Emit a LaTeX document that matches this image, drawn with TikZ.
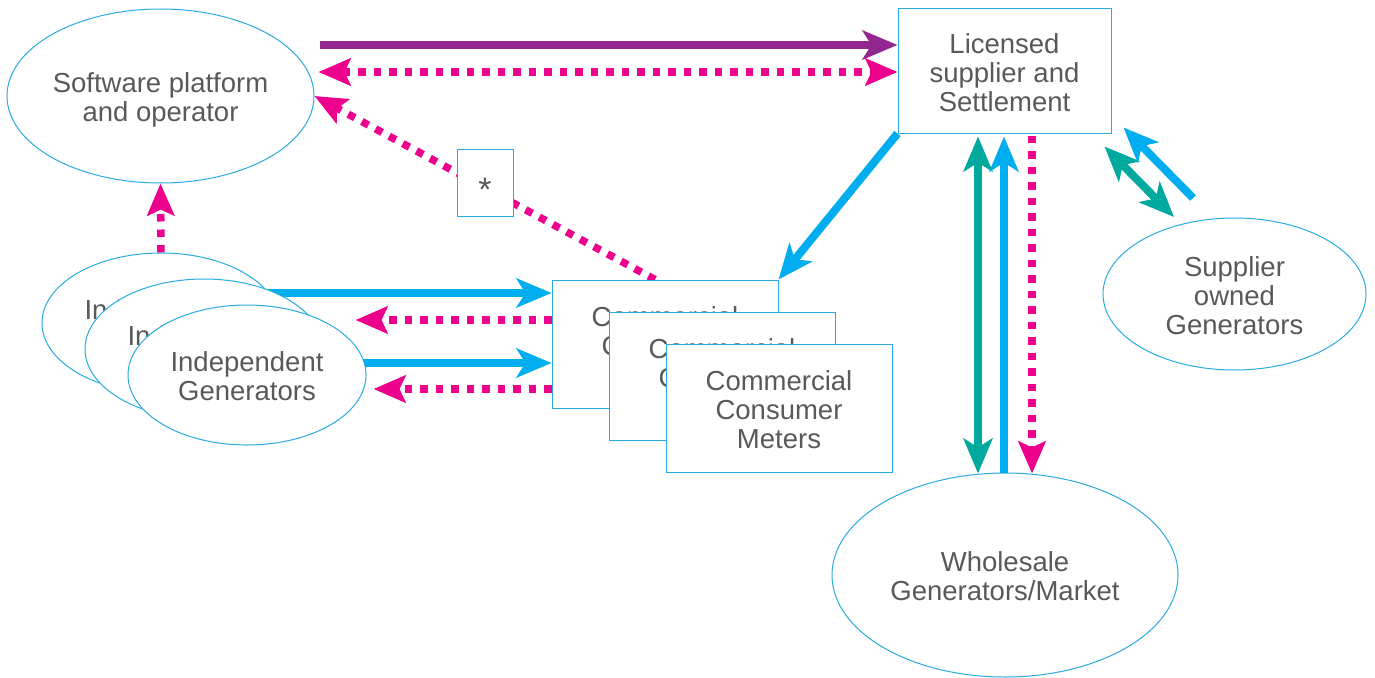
\documentclass[tikz,border=0pt]{standalone}
\usepackage{fontspec}
\setmainfont{Liberation Sans}
\usetikzlibrary{arrows.meta,shapes.geometric,calc,backgrounds}
\definecolor{outl}{HTML}{29ABE2}
\definecolor{cblue}{HTML}{00AEEF}
\definecolor{cpurple}{HTML}{92278F}
\definecolor{cmag}{HTML}{EC008C}
\definecolor{cteal}{HTML}{00A99D}
\definecolor{txt}{HTML}{58595B}
\newcommand{\mytx}[1]{\raisebox{-5.5pt}[\height][\depth]{\begin{tabular}{@{}c@{}}#1\end{tabular}}}
\begin{document}
\begin{tikzpicture}[x=1pt,y=-1pt,
  shp/.style={draw=outl, line width=1pt, fill=white, text=txt, align=center,
    inner sep=0pt, font=\fontsize{27.5}{29}\selectfont},
  ell/.style={shp, ellipse},
  bx/.style={shp, rectangle},
  sz/.style 2 args={minimum width=#1pt, minimum height=#2pt},
  solidtip/.tip={Stealth[length=35pt,width=29pt,inset=9pt]},
  dottip/.tip={Stealth[length=32pt,width=27pt,inset=6pt]},
  barr/.style={draw=cblue, line width=8pt, -solidtip},
  parr/.style={draw=cpurple, line width=8pt, -solidtip},
  tarr/.style={draw=cteal, line width=8pt, solidtip-solidtip},
  marr/.style={draw=cmag, line width=7.5pt, dash pattern=on 7.5pt off 8pt, -dottip},
]
\useasboundingbox (0,0) rectangle (1375,677);

\node[ell, sz={307}{174}] (sw) at (160.5,96) {\mytx{Software platform\\and operator}};
\node[bx, sz={213}{124}] (lic) at (1004.5,71) {\mytx{Licensed\\supplier and\\Settlement}};
\node[ell, sz={263}{152}] (sup) at (1234.5,294) {\mytx{Supplier\\owned\\Generators}};
\node[ell, sz={346}{204}] (ws) at (1005,575) {\mytx{Wholesale\\Generators/Market}};

\node[ell, sz={238}{140}] (ig1) at (161,323) {\mytx{Independent\\Generators}};
\node[ell, sz={238}{140}] (ig2) at (204,349) {\mytx{Independent\\Generators}};
\node[ell, sz={238}{140}] (ig3) at (247,375) {\mytx{Independent\\Generators}};

\node[bx, sz={226}{128}] (c1) at (665,344) {\mytx{Commercial\\Consumer\\Meters}};
\node[bx, sz={226}{128}] (c2) at (722,376) {\mytx{Commercial\\Consumer\\Meters}};
\node[bx, sz={226}{128}] (c3) at (779,408) {\mytx{Commercial\\Consumer\\Meters}};

\node[bx, sz={56}{67}, font=\fontsize{34}{34}\selectfont, text height=37pt, text depth=0pt] (star) at (485,182.5) {*};

\begin{pgfonlayer}{background}
\draw[parr] ($(sw.east)+(5,-51)$) -- ($(lic.west)+(0,-26)$);
\draw[marr, dottip-dottip] ($(sw.east)+(4,-24)$) -- ($(lic.west)+(0,1)$);
\draw[marr] ($(c1.north)+(-10,0)$) -- (sw.east);
\draw[barr] (lic.south west) -- (c1.north east);
\draw[tarr] ($(lic.south)+(-26.5,3)$) -- ($(ws.north)+(-27,1)$);
\draw[barr] ($(ws.north)+(-1,0)$) -- ($(lic.south)+(-0.5,3)$);
\draw[marr] ($(lic.south)+(27.5,2)$) -- ($(ws.north)+(27,1)$);
\draw[tarr] ($(lic.south east)+(-7,13)$) -- ($(sup.center)+(-60.5,-77)$);
\draw[barr] ($(sup.center)+(-41.5,-96)$) -- ($(lic.south east)+(12,-6)$);
\draw[barr] ($(ig1.center)+(0,-30)$) -- ($(c1.west)+(0,-51)$);
\draw[marr] ($(c1.west)+(0,-24)$) -- ($(ig2.east)+(32,-29)$);
\draw[barr] ($(ig3.center)+(0,-12)$) -- ($(c1.west)+(0,19)$);
\draw[marr] ($(c1.west)+(0,45)$) -- ($(ig3.east)+(7,14)$);
\draw[marr] (ig1.north) -- (sw.south);
\end{pgfonlayer}
\end{tikzpicture}
\end{document}
